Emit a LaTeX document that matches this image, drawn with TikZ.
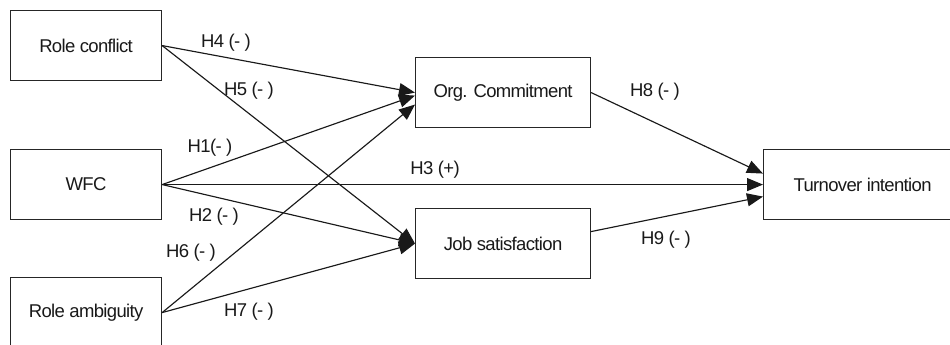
\documentclass[tikz,border=0pt]{standalone}
\usepackage{fontspec}
\setmainfont[LetterSpace=-3.5]{Liberation Sans}
\usetikzlibrary{arrows.meta,calc}
\begin{document}
\begin{tikzpicture}[x=1pt,y=-1pt,
  box/.style={draw=black!85, line width=1.15pt, minimum width=151pt, minimum height=70pt,
    inner sep=0pt, font=\fontsize{18.5}{21}\selectfont, text=black!90, anchor=north west},
  lbl/.style={font=\fontsize{18.5}{21}\selectfont, text=black!90, inner sep=0pt},
  conn/.style={line width=1.15pt, draw=black!90, -{Triangle[length=16pt,width=13pt]}}]
\useasboundingbox (0,0) rectangle (950,345);
\node[box] (rc) at (10,10) {Role conflict};
\node[box] (wfc) at (10,149) {WFC};
\node[box] (ra) at (10,277) {Role ambiguity};
\node[box, minimum width=175pt] (org) at (415,57) {Org. Commitment};
\node[box, minimum width=175pt] (job) at (415,208) {Job satisfaction};
\node[box, minimum width=198pt] (ti) at (763,149) {Turnover intention};
\coordinate (org1) at ($(org.west)+(0,3)$);
\coordinate (org2) at ($(org.west)+(0,12)$);
\coordinate (ti1) at ($(ti.west)+(0,-11)$);
\coordinate (ti3) at ($(ti.west)+(0,12)$);
\coordinate (job9) at ($(job.east)+(0,-12)$);
\draw[conn] (rc.east) -- (org.west);
\draw[conn] (rc.east) -- (job.west);
\draw[conn] (wfc.east) -- (org1);
\draw[conn] (wfc.east) -- (ti.west);
\draw[conn] (wfc.east) -- (job.west);
\draw[conn] (ra.east) -- (org2);
\draw[conn] (ra.east) -- (job.west);
\draw[conn] (org.east) -- (ti1);
\draw[conn] (job9) -- (ti3);
\node[lbl] (h4) at (226,43) {H4 (- )};
\node[lbl] (h5) at (249,91) {H5 (- )};
\node[lbl] (h1) at (210,148) {H1(- )};
\node[lbl] (h2) at (214,217) {H2 (- )};
\node[lbl] (h6) at (191,253) {H6 (- )};
\node[lbl] (h7) at (249,312) {H7 (- )};
\node[lbl] (h3) at (435,170) {H3 (+)};
\node[lbl] (h8) at (655,92) {H8 (- )};
\node[lbl] (h9) at (666,240) {H9 (- )};
\end{tikzpicture}
\end{document}
